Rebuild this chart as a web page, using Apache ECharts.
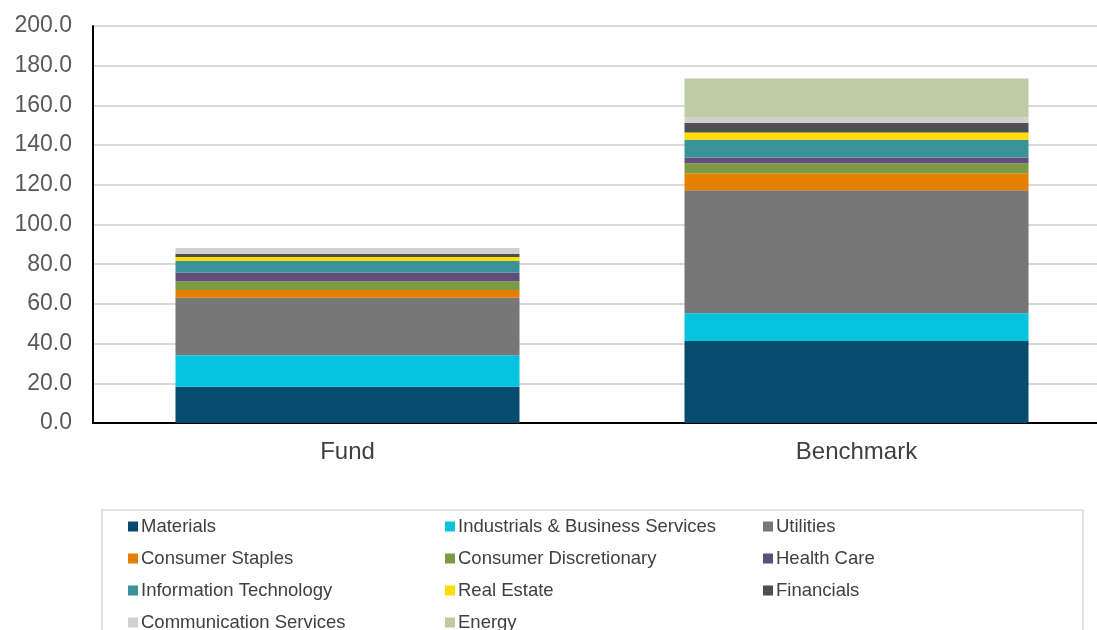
<!DOCTYPE html>
<html>
<head>
<meta charset="utf-8">
<script src="https://cdn.jsdelivr.net/npm/echarts@6/dist/echarts.min.js"></script>
<style>html,body{margin:0;padding:0;background:#fff}#c{width:1097px;height:630px}</style>
</head>
<body>
<div id="c"></div>
<script>
const categories = ['Fund', 'Benchmark'];
const seriesNames = ['Materials','Industrials & Business Services','Utilities','Consumer Staples','Consumer Discretionary','Health Care','Information Technology','Real Estate','Financials','Communication Services','Energy'];
const materials = [18.3, 41.3];
const industrials = [15.8, 14.0];
const utilities = [29.0, 61.9];
const consumerStaples = [3.9, 8.6];
const consumerDiscretionary = [4.4, 5.0];
const healthCare = [4.3, 3.0];
const infoTech = [5.9, 8.9];
const realEstate = [2.0, 3.7];
const financials = [1.7, 4.9];
const commServices = [2.9, 2.7];
const energy = [0, 19.6];
const yTicks = [0, 20, 40, 60, 80, 100, 120, 140, 160, 180, 200];

const values = [materials, industrials, utilities, consumerStaples, consumerDiscretionary, healthCare, infoTech, realEstate, financials, commServices, energy];
const colors = ['#074B6E','#05C3DE','#777777','#E57F00','#7A9A44','#624C7A','#3A9299','#FFDD00','#4F4F4F','#D0D0D0','#BFCBA3'];

const colX = [128, 445, 763];
const rowY = [517, 549, 581, 613];
const legends = seriesNames.map((n, i) => ({
  data: [n],
  left: colX[i % 3],
  top: rowY[Math.floor(i / 3)],
  itemWidth: 10, itemHeight: 10, itemGap: 3,
  icon: 'rect',
  padding: 0,
  selectedMode: false,
  textStyle: { fontFamily: 'Liberation Sans', fontSize: 18.5, color: '#404040', padding: [0, 0, 0, -2] }
}));

const chart = echarts.init(document.getElementById('c'));
chart.setOption({
  animation: false,
  color: colors,
  graphic: [{ type: 'rect', shape: { x: 102, y: 510, width: 981, height: 140 }, style: { fill: 'none', stroke: '#D9D9D9', lineWidth: 1.5 } }],
  legend: legends,
  grid: { left: 93, top: 26, width: 1018, height: 397, containLabel: false, outerBoundsMode: 'none' },
  xAxis: {
    type: 'category', data: categories,
    axisLine: { lineStyle: { color: '#000', width: 2 } },
    axisTick: { show: false },
    axisLabel: { fontFamily: 'Liberation Sans', fontSize: 24, color: '#404040', margin: 17 }
  },
  yAxis: {
    type: 'value', min: yTicks[0], max: yTicks[yTicks.length - 1], interval: 20,
    axisLine: { show: true, lineStyle: { color: '#000', width: 2 } },
    axisTick: { show: false },
    splitLine: { lineStyle: { color: '#D9D9D9', width: 2 } },
    axisLabel: { fontFamily: 'Liberation Sans', fontSize: 23, color: '#595959', margin: 21, formatter: v => v.toFixed(1) }
  },
  series: seriesNames.map((n, i) => ({
    name: n, type: 'bar', stack: 'total', barWidth: 344,
    data: values[i],
    itemStyle: { color: colors[i] }
  }))
});
</script>
</body>
</html>
